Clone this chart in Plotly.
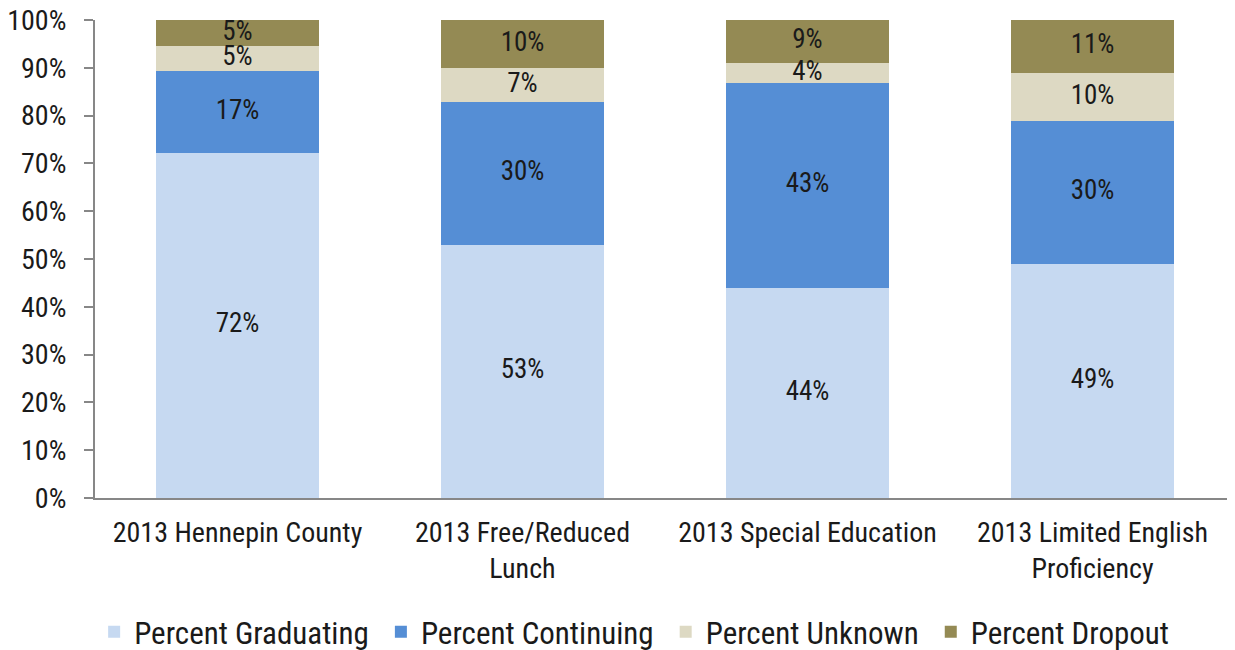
import plotly.graph_objects as go

categories = ['2013 Hennepin County', '2013 Free/Reduced<br>Lunch',
              '2013 Special Education', '2013 Limited English<br>Proficiency']
graduating = [72.2, 52.9, 43.9, 49.0]
continuing = [17.1, 29.9, 42.9, 29.9]
unknown = [5.3, 7.2, 4.2, 10.0]
dropout = [5.4, 10.0, 9.0, 11.1]

series = [
    ('Percent Graduating', graduating, '#C6D9F1'),
    ('Percent Continuing', continuing, '#558ED5'),
    ('Percent Unknown', unknown, '#DDD9C3'),
    ('Percent Dropout', dropout, '#948A54'),
]

font_family = 'Roboto Condensed, Liberation Sans Narrow, Roboto, sans-serif'

fig = go.Figure()
base = [0] * len(categories)
label_y, label_x, label_text = [], [], []
for name, vals, color in series:
    fig.add_trace(go.Bar(
        x=categories, y=vals, name=name + '\u00a0',
        marker=dict(color=color, line=dict(width=0)),
    ))
    for i, v in enumerate(vals):
        label_x.append(categories[i])
        label_y.append(base[i] + v / 2)
        label_text.append(f'{round(v)}%')
        base[i] += v

# segment labels centred in each stacked segment
fig.add_trace(go.Scatter(
    x=label_x, y=label_y, text=label_text, mode='text',
    textposition='middle center', showlegend=False, hoverinfo='skip',
    textfont=dict(size=27, color='#1a1a1a', family=font_family),
    cliponaxis=False,
))

# page body has an 8px margin, so the figure is shifted by 8px
fig.update_layout(
    barmode='stack', bargap=0.43,
    width=1227, height=655,
    margin=dict(l=87, r=0, t=12, b=165),
    plot_bgcolor='white', paper_bgcolor='white',
    font=dict(family=font_family, size=28, color='#1a1a1a'),
    legend=dict(orientation='h', x=0.476, xanchor='center', y=-0.224, yanchor='top',
                font=dict(size=31), traceorder='normal', itemwidth=30),
    showlegend=True,
)
fig.update_yaxes(range=[0, 100], tickvals=list(range(0, 101, 10)),
                 ticktext=[f'{v}%' for v in range(0, 101, 10)],
                 showgrid=False, showline=True, linecolor='#878787', linewidth=2,
                 ticks='outside', ticklen=9, tickcolor='#878787', tickwidth=2,
                 tickfont=dict(size=28), automargin=False, ticklabelstandoff=12,
                 ticklabeloverflow='allow')
fig.update_xaxes(showline=True, linecolor='#878787', linewidth=2, showgrid=False,
                 ticks='', tickfont=dict(size=28), automargin=False,
                 ticklabelstandoff=8)

fig.write_html('out.html')
